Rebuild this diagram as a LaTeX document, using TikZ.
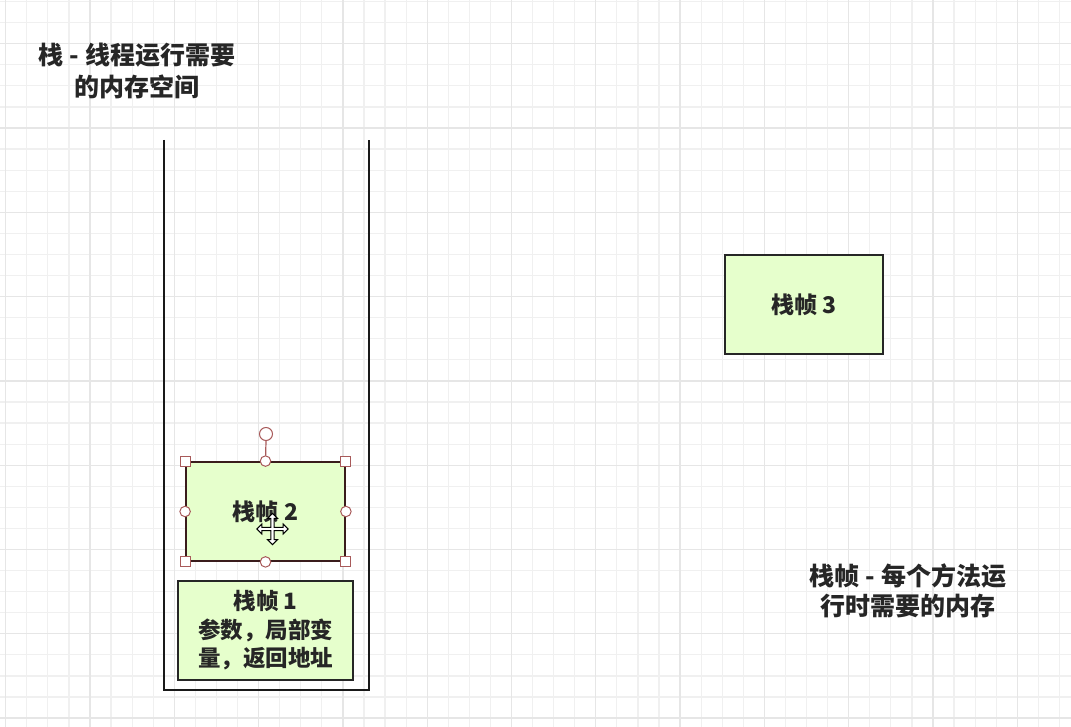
\documentclass[tikz,border=0pt]{standalone}
\usepackage{fontspec}
\setmainfont{Noto Sans CJK SC}
\definecolor{framegreen}{HTML}{E6FFCC}
\definecolor{gridminor}{HTML}{F0F0F0}
\definecolor{gridmajor}{HTML}{E6E6E6}
\definecolor{txt}{HTML}{262626}
\definecolor{selred}{HTML}{A85A5A}
\definecolor{selborder}{HTML}{3A1C1C}
\tikzset{
  minorline/.style={draw=gridminor, line width=1.2pt},
  majorline/.style={draw=gridmajor, line width=1.3pt},
  stackwall/.style={draw=black!90, line width=2pt},
  framebox/.style={draw=black!85, line width=1.8pt, fill=framegreen, inner sep=0pt, text=txt, align=center},
  freetext/.style={text=txt, align=center, inner sep=0pt},
  sqhandle/.style={draw=selred, fill=white, line width=1pt, minimum size=10pt, inner sep=0pt},
  cirhandle/.style={draw=selred, fill=white, line width=1pt, circle, minimum size=10.5pt, inner sep=0pt},
  rothandle/.style={draw=selred, fill=white, line width=1pt, circle, minimum size=13pt, inner sep=0pt},
}
\begin{document}
\begin{tikzpicture}[x=1pt,y=-1pt]
\useasboundingbox (0,0) rectangle (1071,727);
\fill[white] (0,0) rectangle (1071,727);
% grid
\foreach \i in {0,...,50} { \draw[minorline] (5.7+\i*21.075,0) -- (5.7+\i*21.075,727); }
\foreach \j in {0,...,34} { \draw[minorline] (0,1.55+\j*21.075) -- (1071,1.55+\j*21.075); }
\foreach \i in {0,4,...,48} { \draw[majorline] (5.7+\i*21.075,0) -- (5.7+\i*21.075,727); }
\foreach \j in {2,6,...,34} { \draw[majorline] (0,1.55+\j*21.075) -- (1071,1.55+\j*21.075); }

% title
\node[freetext, font=\fontsize{25}{32}\selectfont\bfseries] (title) at (137,71) {栈 - 线程运行需要\\的内存空间};

% stack container
\coordinate (sTL) at (164.3,140);
\coordinate (sBL) at (164.3,690);
\coordinate (sBR) at (368.5,690);
\coordinate (sTR) at (368.5,140);
\draw[stackwall] (sTL) -- (sBL) -- (sBR) -- (sTR);

% frame 1
\node[framebox, minimum width=175pt, minimum height=99pt, font=\fontsize{22.5}{28.5}\selectfont\bfseries] (f1) at (265.5,630.5) {栈帧 1\\参数，局部变\\量，返回地址};

% frame 2 (selected)
\node[framebox, draw=selborder, minimum width=159pt, minimum height=99pt, font=\fontsize{23}{28}\selectfont\bfseries] (f2) at (265.5,511.5) {栈帧 2};
\node[rothandle] (rot) at (266,434) {};
\draw[selred, line width=1.2pt] (rot.south) -- (f2.north);
\foreach \a in {north west,north east,south west,south east} { \node[sqhandle] at (f2.\a) {}; }
\foreach \a in {north,south,east,west} { \node[cirhandle] at (f2.\a) {}; }
% move cursor
\begin{scope}[shift={(272.5,529)}, scale=1.12]
\draw[fill=white, draw=black, line width=1pt, line join=miter]
 (0,-14) -- (4.5,-9.5) -- (1.5,-9.5) -- (1.5,-1.5) -- (9.5,-1.5) -- (9.5,-4.5) -- (14,0) -- (9.5,4.5) -- (9.5,1.5) -- (1.5,1.5) -- (1.5,9.5) -- (4.5,9.5) -- (0,14) -- (-4.5,9.5) -- (-1.5,9.5) -- (-1.5,1.5) -- (-9.5,1.5) -- (-9.5,4.5) -- (-14,0) -- (-9.5,-4.5) -- (-9.5,-1.5) -- (-1.5,-1.5) -- (-1.5,-9.5) -- (-4.5,-9.5) -- cycle;
\end{scope}

% frame 3
\node[framebox, minimum width=158pt, minimum height=99pt, font=\fontsize{23}{28}\selectfont\bfseries] (f3) at (804,304.5) {栈帧 3};

% caption
\node[freetext, font=\fontsize{25}{30}\selectfont\bfseries] (cap) at (908,591) {栈帧 - 每个方法运\\行时需要的内存};
\end{tikzpicture}
\end{document}
